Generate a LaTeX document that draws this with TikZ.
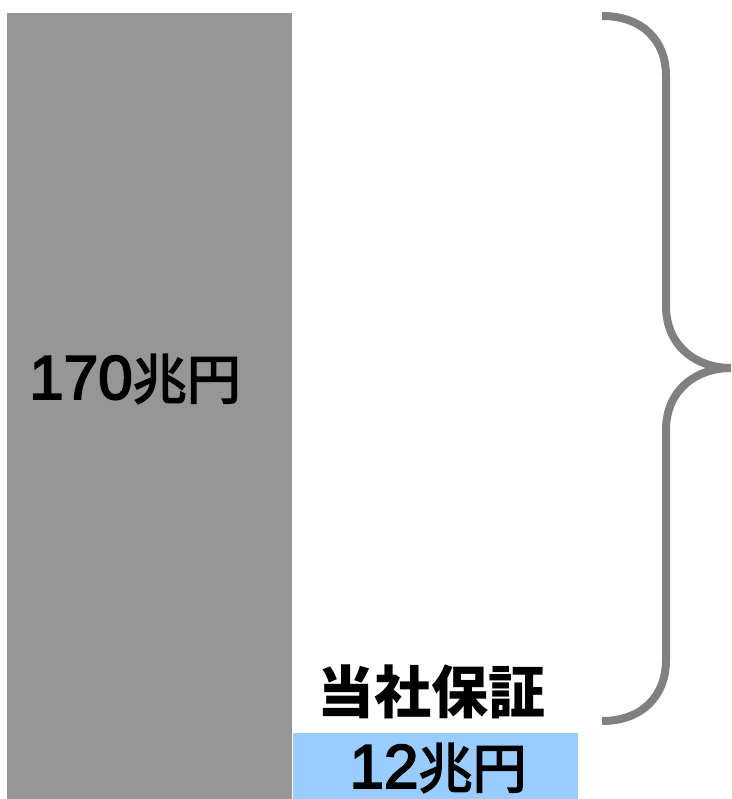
\documentclass[tikz,border=0pt]{standalone}
\usepackage{fontspec}
\newfontfamily\jpfont{Noto Sans CJK JP}
\newfontfamily\jpmed{Noto Sans CJK JP}[FakeBold=3]
\newfontfamily\digfont{Liberation Sans}[FakeBold=3]
\newcommand{\amt}[1]{{\digfont\fontsize{62}{62}\selectfont #1}{\jpmed\fontsize{54}{54}\selectfont 兆円}}
\definecolor{bargray}{HTML}{969696}
\definecolor{barblue}{HTML}{99CCFF}
\definecolor{bracegray}{HTML}{808080}
\begin{document}
\begin{tikzpicture}[x=1pt,y=-1pt,
  lbl/.style={text=black, inner sep=0pt, anchor=base},
  bracestyle/.style={draw=bracegray, line width=8pt, line cap=butt}]
\useasboundingbox (0,0) rectangle (731,799);
\fill[bargray] (7,13) rectangle (292,799);
\fill[barblue] (293,733) rectangle (578,799);
\node[lbl] (total) at (135,399) {\amt{170}};
\node[lbl, font=\jpfont\bfseries\fontsize{57}{57}\selectfont] (hoshou) at (431,713) {当社保証};
\node[lbl] (part) at (438,788) {\amt{12}};
\draw[bracestyle] (602,16) .. controls (642,16) and (666,40) .. (666,76)
  -- (666,306) .. controls (666,345) and (695,368) .. (731,368)
  .. controls (695,368) and (666,391) .. (666,430)
  -- (666,660) .. controls (666,696) and (642,721) .. (602,721);
\end{tikzpicture}
\end{document}
